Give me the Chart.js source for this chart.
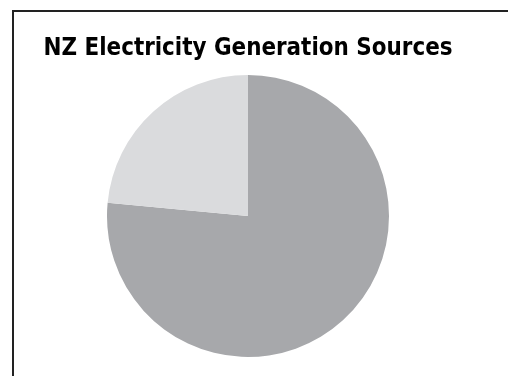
<!DOCTYPE html>
<html>
<head>
<meta charset="utf-8">
<script src="https://cdn.jsdelivr.net/npm/chart.js@4/dist/chart.umd.min.js"></script>
<style>
  html, body { margin: 0; padding: 0; background: #fff; }
  #wrap { position: relative; width: 508px; height: 376px; overflow: hidden; }
  #frame {
    position: absolute; left: 12px; top: 10px; width: 600px; height: 500px;
    border-left: 2px solid #222; border-top: 2px solid #222;
  }
  canvas { position: absolute; left: 0; top: 0; }
</style>
</head>
<body>
<div id="wrap">
  <div id="frame"></div>
  <canvas id="chart" width="508" height="376"></canvas>
</div>
<script>
// Share of electricity generation by source (%)
const sources = ['Renewable', 'Non-renewable'];
const shares = [76.5, 23.5];
const sliceColors = ['#a7a8ab', '#dadbdd'];
const chartTitle = 'NZ Electricity Generation Sources';

new Chart(document.getElementById('chart'), {
  type: 'pie',
  data: {
    labels: sources,
    datasets: [{
      data: shares,
      backgroundColor: sliceColors,
      borderWidth: 0,
      hoverOffset: 0
    }]
  },
  options: {
    responsive: false,
    animation: false,
    events: [],
    layout: { padding: { left: 43.5, right: 55.5, top: 34.5, bottom: 19 } },
    plugins: {
      legend: { display: false },
      tooltip: { enabled: false },
      title: {
        display: true,
        text: chartTitle,
        align: 'start',
        color: '#000',
        font: { family: 'DejaVu Sans', weight: 'bold', size: 24, lineHeight: 1.2 },
        padding: { top: 0, bottom: 11.7 }
      }
    }
  }
});
</script>
</body>
</html>
